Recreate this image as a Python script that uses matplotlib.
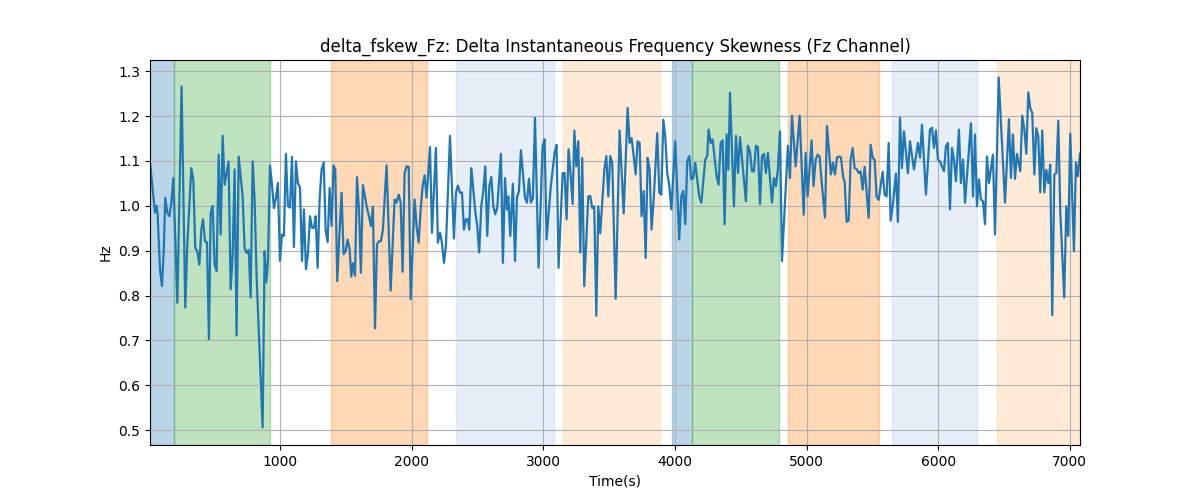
import matplotlib
matplotlib.use("Agg")
import matplotlib.pyplot as plt

# values (peaks / troughs of the trace)
time_s = [10, 48, 60, 68, 86, 101, 114, 126, 142, 157, 172, 187, 218, 250, 278, 293,
          324, 339, 354, 369, 385, 400, 413, 428, 443, 458, 471, 486, 501, 516, 532,
          547, 562, 577, 592, 607, 623, 638, 653, 668, 684, 699, 714, 729, 744, 760,
          775, 790, 805, 820, 866, 881, 894, 906, 922,
          937, 952, 967, 982, 998, 1013, 1028, 1043, 1058, 1074, 1089, 1104, 1119,
          1134, 1150, 1165, 1180, 1195, 1210, 1226, 1241, 1256, 1269, 1284, 1299,
          1314, 1330, 1345, 1360, 1375, 1390, 1405, 1418, 1433, 1449, 1466, 1481,
          1497, 1512, 1527, 1540, 1552, 1568, 1583, 1598, 1613, 1628, 1644, 1659,
          1674, 1689, 1704, 1720, 1735, 1750, 1765, 1780,
          1808, 1839, 1869, 1884, 1900, 1915, 1930, 1945, 1960, 1976, 1991, 2021,
          2036, 2052, 2067, 2082, 2097, 2112, 2138, 2153, 2183, 2198, 2214, 2229,
          2244, 2259, 2290, 2305, 2320, 2335, 2350, 2366, 2381, 2396, 2411, 2426,
          2436, 2452, 2482, 2497, 2512, 2528, 2543, 2558, 2573, 2589, 2604, 2619,
          2634, 2649,
          2677, 2692, 2708, 2723, 2733, 2748, 2768, 2784, 2799, 2814, 2829, 2860,
          2875, 2890, 2905, 2920, 2936, 2963, 2994, 3009, 3024, 3055, 3085, 3100,
          3115, 3146, 3161, 3176, 3191, 3207, 3222, 3235, 3250, 3265, 3280, 3295,
          3310, 3341, 3356, 3371, 3386, 3402, 3417, 3432, 3463, 3478, 3493, 3508,
          3523,
          3549, 3579, 3610, 3640, 3655, 3670, 3686, 3701, 3716, 3731, 3746, 3762,
          3777, 3792, 3807, 3822, 3838, 3865, 3881, 3896, 3911, 3926, 3941, 3957,
          3972, 4002, 4032, 4048, 4063, 4078, 4093, 4108, 4124, 4139, 4154, 4184,
          4200, 4230, 4245, 4255, 4271, 4286, 4316, 4331, 4347, 4362, 4377, 4392,
          4405, 4418,
          4448, 4463, 4479, 4494, 4539, 4554, 4570, 4585, 4600, 4615, 4630, 4646,
          4661, 4676, 4691, 4706, 4737, 4752, 4767, 4782, 4798, 4813, 4858, 4874,
          4889, 4917, 4947, 4978, 4993, 5008, 5038, 5053, 5069, 5084, 5099, 5114,
          5140, 5155, 5185, 5200, 5216, 5231, 5246, 5261,
          5279, 5289, 5304, 5320, 5335, 5350, 5365, 5380, 5396, 5411, 5426, 5441,
          5472, 5487, 5502, 5517, 5532, 5548, 5578, 5593, 5608, 5624, 5639, 5654,
          5679, 5694, 5710, 5725, 5740, 5770, 5786, 5816, 5831, 5846, 5862, 5877,
          5907, 5938, 5953, 5968, 5983, 5998, 6014, 6029, 6044, 6059, 6074, 6090,
          6105, 6120, 6135,
          6158, 6173, 6189, 6204, 6249, 6265, 6280, 6295, 6310, 6325, 6341, 6356,
          6371, 6386, 6416, 6432, 6460, 6508, 6538, 6553, 6568, 6584, 6599, 6624,
          6639, 6655, 6670, 6685, 6700, 6715, 6731, 6746, 6761, 6776, 6791, 6807,
          6822, 6837, 6852, 6867, 6883, 6898, 6913, 6928, 6958, 6974, 6989, 7004,
          7032, 7047, 7062, 7078]

values_hz = [1.096, 0.985, 1.0, 0.981, 0.858, 0.821, 0.896, 1.018, 0.984, 0.977, 1.006,
             1.062, 0.784, 1.266, 0.773, 0.910, 1.084, 1.058, 0.906, 0.899, 0.869, 0.947,
             0.970, 0.921, 0.919, 0.703, 0.984, 1.0, 0.869, 0.855, 1.114, 0.936, 1.156,
             1.047, 1.073, 1.099, 0.814, 0.888, 1.081, 0.711, 1.110, 1.066, 1.021, 0.906,
             0.895, 0.902, 0.796, 1.099, 1.014, 0.844, 0.506, 0.899, 0.829, 0.873, 1.090,
             1.047, 0.995, 1.018, 1.051, 0.877, 0.936, 0.933, 1.116, 1.0, 0.996, 1.109,
             0.908, 1.099, 1.051, 1.041, 0.877, 0.992, 0.859, 0.892, 0.977, 0.951, 0.951,
             0.977, 0.862, 1.014, 1.081, 1.097, 0.947, 0.919, 1.040, 0.955, 1.090, 1.081,
             0.832, 0.933, 1.029, 0.892, 0.899, 0.925, 0.903, 0.842, 0.872, 0.844, 1.064,
             0.992, 0.851, 1.046, 1.021, 0.995, 0.977, 0.955, 0.998, 0.727, 0.914, 0.921,
             0.921, 0.947,
             1.090, 0.811, 1.014, 1.007, 1.025, 1.007, 0.853, 1.073, 1.088, 1.087, 0.792,
             1.014, 0.955, 0.918, 0.992, 1.044, 1.068, 1.018, 1.131, 0.940, 1.129, 0.918,
             0.940, 0.918, 0.873, 0.910, 1.156, 1.044, 0.927, 1.029, 1.045, 1.029, 1.030,
             0.947, 0.970, 0.970, 0.947, 1.084, 0.988, 0.955, 0.896, 1.0, 1.033, 1.088,
             0.933, 1.044, 1.064, 1.0, 0.981, 0.996,
             1.116, 0.873, 1.062, 0.992, 1.021, 0.933, 1.049, 0.877, 1.018, 1.033, 1.124,
             1.018, 1.007, 1.060, 1.007, 1.018, 1.196, 0.862, 1.134, 1.148, 0.925, 1.040,
             1.118, 1.136, 0.862, 1.073, 1.073, 0.970, 1.126, 1.067, 1.004, 1.168, 1.088,
             1.144, 0.896, 1.107, 0.821, 1.021, 1.022, 0.995, 0.999, 0.755, 0.999, 0.939,
             1.081, 1.111, 1.021, 1.111, 1.096,
             0.793, 1.168, 0.983, 1.218, 1.140, 1.151, 1.111, 1.070, 1.144, 1.140, 0.977,
             1.033, 0.884, 1.107, 1.081, 0.947, 1.014, 1.162, 1.029, 1.025, 1.192, 1.154,
             1.073, 1.044, 0.992, 1.144, 0.925, 1.021, 1.033, 0.959, 1.099, 1.111, 1.059,
             1.062, 1.096, 1.021, 1.007, 1.103, 1.111, 1.170, 1.140, 1.148, 1.066, 1.047,
             1.140, 1.146, 0.959, 1.159, 1.081, 1.252,
             0.999, 1.156, 1.073, 1.153, 1.010, 1.134, 1.121, 1.077, 1.077, 1.134, 1.131,
             1.004, 1.110, 1.116, 1.073, 1.118, 1.007, 1.062, 1.044, 1.081, 1.166, 0.877,
             1.134, 1.062, 1.201, 1.088, 1.201, 0.980, 1.118, 1.021, 1.146, 1.044, 1.103,
             1.114, 1.110, 1.055, 0.974, 1.178, 1.070, 1.096, 1.070, 1.108, 1.110, 1.108,
             1.062, 1.055, 0.964, 0.967, 1.103, 1.129, 1.084, 1.082, 1.073, 1.077, 1.036,
             1.087, 0.973, 1.136, 1.107, 1.103, 1.021, 1.013, 1.076, 1.025, 1.021, 1.140,
             0.967, 0.999, 1.072, 0.964, 1.196, 1.084, 1.166, 1.073, 1.144, 1.081, 1.110,
             1.140, 1.107, 1.181, 1.025, 1.170, 1.174, 1.129, 1.168, 1.103, 1.099, 1.088,
             1.077, 1.132, 1.140, 0.992, 1.129, 1.103, 1.055,
             1.170, 1.051, 1.103, 1.007, 1.184, 1.021, 1.159, 0.999, 1.059, 1.014, 1.010,
             0.959, 1.110, 1.051, 1.114, 0.936, 1.286, 1.007, 1.193, 1.062, 1.159, 1.060,
             1.116, 1.077, 1.201, 1.170, 1.116, 1.253, 1.218, 1.207, 1.070, 1.173, 1.155,
             1.030, 1.168, 1.030, 1.080, 1.051, 1.092, 0.756, 1.070, 1.073, 1.190, 0.988,
             0.796, 0.999, 0.933, 1.161, 0.899, 1.096, 1.066, 1.116]

# shaded segments: start, end, colour
span_start = [10, 194, 1383, 2336, 3147, 3977, 4129, 4856, 5647, 6445]
span_end = [192, 925, 2118, 3078, 3884, 4129, 4788, 5548, 6298, 7078]
span_color = ['tab:blue', 'tab:green', 'tab:orange', '#aec7e8', '#ffbb78',
              'tab:blue', 'tab:green', 'tab:orange', '#aec7e8', '#ffbb78']

fig, ax = plt.subplots(figsize=(12, 5), dpi=100)

for s, e, c in zip(span_start, span_end, span_color):
    ax.axvspan(s, e, color=c, alpha=0.3)

ax.plot(time_s, values_hz, color='tab:blue', linewidth=1.6)

ax.set_xlim(time_s[0], time_s[-1])
ax.set_title('delta_fskew_Fz: Delta Instantaneous Frequency Skewness (Fz Channel)')
ax.set_xlabel('Time(s)')
ax.set_ylabel('Hz')
ax.grid(True)

fig.savefig('out.png')
